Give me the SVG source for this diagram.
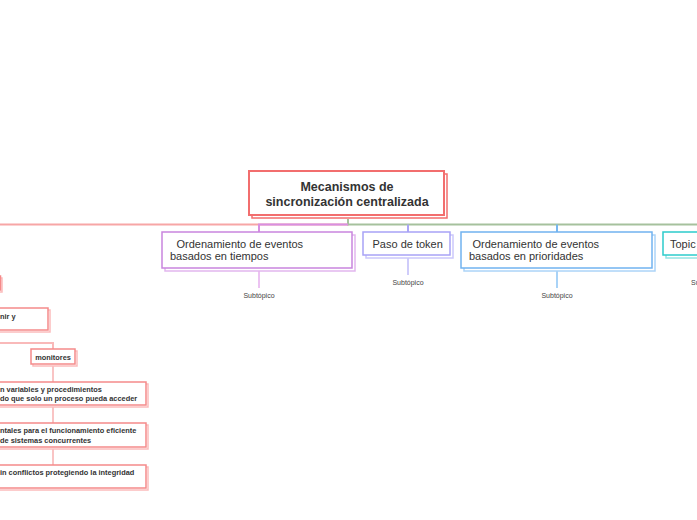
<svg xmlns="http://www.w3.org/2000/svg" width="697" height="520" viewBox="0 0 697 520">
<style>
  text { font-family: "Liberation Sans", Arial, sans-serif; fill: #333333; }
  .central { font-size: 12.5px; font-weight: bold; text-anchor: middle; }
  .main { font-size: 11px; }
  .sub { font-size: 7px; text-anchor: middle; fill: #444444; }
  .small { font-size: 7.4px; font-weight: bold; }
  .conn { fill: none; stroke-width: 2; }
  .box { fill: #ffffff; stroke-width: 1.5; }
  .shadow { fill: #ffffff; stroke-width: 1.5; }
</style>
<rect width="697" height="520" fill="#ffffff"/>

<g id="connectors">
  <path class="conn" d="M348,219 V224.5 H0" stroke="#f7a6a6"/>
  <path class="conn" d="M348,219 V224.5 H697" stroke="#a6c19d"/>
  <path class="conn" d="M348,224.5 H259 V232" stroke="#d790e2"/>
  <path class="conn" d="M408,224.5 V232" stroke="#aaa5f6"/>
  <path class="conn" d="M557,224.5 V232" stroke="#76b7f0"/>
  <path class="conn" d="M259,271 V288" stroke="#ecc3f2" stroke-width="1.5"/>
  <path class="conn" d="M408,258 V275" stroke="#cfccfa" stroke-width="1.5"/>
  <path class="conn" d="M557,271 V288" stroke="#a9d3f7" stroke-width="1.5"/>
  <path class="conn" d="M0,343 H53 V349" stroke="#f9b9b9" stroke-width="1.5"/>
  <path class="conn" d="M53,366 V382" stroke="#f9c4c4" stroke-width="1.5"/>
  <path class="conn" d="M53,407 V423" stroke="#f9c4c4" stroke-width="1.5"/>
  <path class="conn" d="M53,449 V465" stroke="#f9c4c4" stroke-width="1.5"/>
</g>

<g id="central">
  <rect x="252" y="174" width="195" height="44" fill="#ffffff" stroke="#f26e6e" stroke-width="1.5"/>
  <rect x="249" y="171" width="195" height="44" fill="#ffffff" stroke="#f26e6e" stroke-width="2"/>
  <text class="central" x="347" y="191">Mecanismos de</text>
  <text class="central" x="347" y="206">sincronización centralizada</text>
</g>

<g id="node-tiempos">
  <rect class="shadow" x="165" y="235" width="190" height="36" stroke="#e2b6ee"/>
  <rect class="box" x="162" y="232" width="190" height="36" stroke="#c985de"/>
  <text class="main" x="176.5" y="248">Ordenamiento de eventos</text>
  <text class="main" x="170" y="259.5">basados en tiempos</text>
  <text class="sub" x="259" y="298">Subtópico</text>
</g>

<g id="node-token">
  <rect class="shadow" x="366" y="235" width="87" height="23" stroke="#cbc8fb"/>
  <rect class="box" x="363" y="232" width="87" height="23" stroke="#a8a3f6"/>
  <text class="main" x="372.5" y="247.5">Paso de token</text>
  <text class="sub" x="408" y="285">Subtópico</text>
</g>

<g id="node-prioridades">
  <rect class="shadow" x="464" y="235" width="191" height="36" stroke="#acd4f8"/>
  <rect class="box" x="461" y="232" width="191" height="36" stroke="#71b3f0"/>
  <text class="main" x="472.5" y="248">Ordenamiento de eventos</text>
  <text class="main" x="469" y="259.5">basados en prioridades</text>
  <text class="sub" x="557" y="298">Subtópico</text>
</g>

<g id="node-topic">
  <rect class="shadow" x="666" y="235" width="60" height="23" stroke="#93e4e4"/>
  <rect class="box" x="663" y="232" width="60" height="23" stroke="#2ccccc"/>
  <text class="main" x="670" y="247.5">Topic</text>
  <text class="sub" x="691" y="285" style="text-anchor:start">Su</text>
</g>

<g id="node-left-top">
  <rect class="shadow" x="-48" y="278" width="50" height="14" stroke="#fbbcbc"/>
  <rect class="box" x="-50" y="276" width="50.5" height="14" stroke="#f58a8a"/>
</g>

<g id="node-definir">
  <rect class="shadow" x="-98" y="310" width="148" height="22" stroke="#fbbcbc"/>
  <rect class="box" x="-100" y="308" width="148" height="22" stroke="#f58a8a"/>
  <text class="small" x="0" y="318.5">nir y</text>
</g>

<g id="node-monitores">
  <rect class="shadow" x="33" y="351" width="44" height="15" stroke="#fbbcbc"/>
  <rect class="box" x="31" y="349" width="44" height="15" stroke="#f58a8a"/>
  <text class="small" x="53" y="359.5" style="text-anchor:middle">monitores</text>
</g>

<g id="node-variables">
  <rect class="shadow" x="-58" y="384" width="206" height="23" stroke="#fbbcbc"/>
  <rect class="box" x="-60" y="382" width="206" height="23" stroke="#f58a8a"/>
  <text class="small" x="0" y="391.5">n variables y procedimientos</text>
  <text class="small" x="0" y="401">do que solo un proceso pueda acceder</text>
</g>

<g id="node-fundamentales">
  <rect class="shadow" x="-58" y="425" width="206" height="24" stroke="#fbbcbc"/>
  <rect class="box" x="-60" y="423" width="206" height="24" stroke="#f58a8a"/>
  <text class="small" x="0" y="433">ntales para el funcionamiento eficiente</text>
  <text class="small" x="0" y="442.5">de sistemas concurrentes</text>
</g>

<g id="node-conflictos">
  <rect class="shadow" x="-58" y="467" width="206" height="23" stroke="#fbbcbc"/>
  <rect class="box" x="-60" y="465" width="206" height="23" stroke="#f58a8a"/>
  <text class="small" x="0" y="474.5">in conflictos protegiendo la integridad</text>
</g>
</svg>
